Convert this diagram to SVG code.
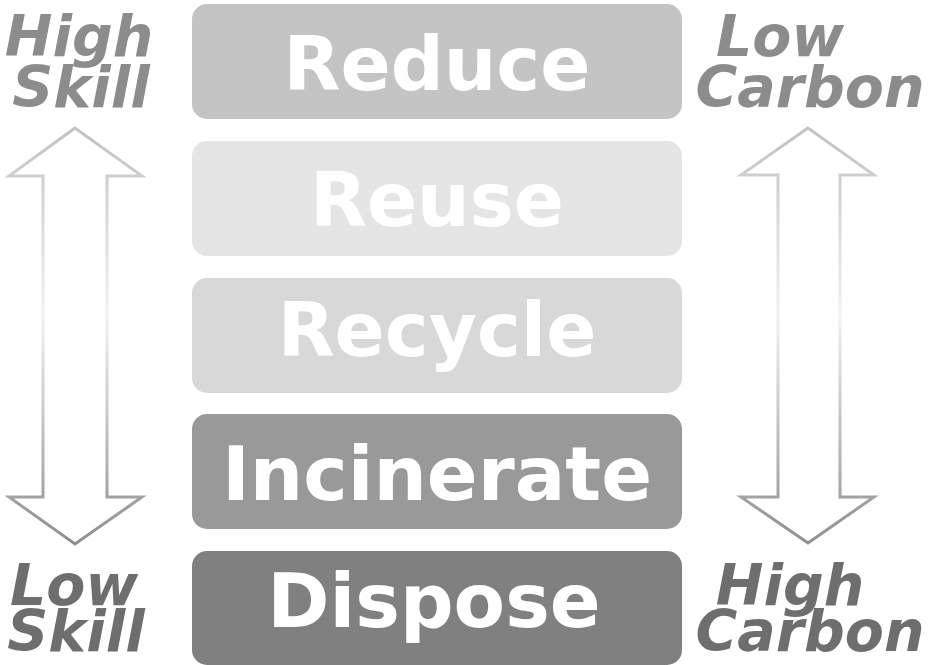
<svg xmlns="http://www.w3.org/2000/svg" width="929" height="665" viewBox="0 0 929 665">
<style>
.box text{font-family:"DejaVu Sans",sans-serif;font-weight:bold;font-size:74px;fill:#ffffff;text-anchor:middle}
.lab{font-family:"DejaVu Sans",sans-serif;font-weight:bold;font-style:italic;font-size:57px;text-anchor:middle}
.light{fill:#8c8c8c}
.dark{fill:#6e6e6e}
.arrow{fill:none;stroke:url(#ag);stroke-width:3;stroke-linejoin:miter}
</style>
<defs>
<linearGradient id="ag" gradientUnits="userSpaceOnUse" x1="0" y1="128" x2="0" y2="544">
<stop offset="0" stop-color="#c2c2c2"/>
<stop offset="0.45" stop-color="#f2f2f2"/>
<stop offset="1" stop-color="#8e8e8e"/>
</linearGradient>
</defs>
<rect width="929" height="665" fill="#ffffff"/>
<g id="reduce" class="box"><rect x="192" y="4" width="490" height="115" rx="15" fill="#c4c4c4"/><text x="437" y="90">Reduce</text></g>
<g id="reuse" class="box"><rect x="192" y="141" width="490" height="115" rx="15" fill="#e5e5e5"/><text x="437" y="226">Reuse</text></g>
<g id="recycle" class="box"><rect x="192" y="278" width="490" height="115" rx="15" fill="#d8d8d8"/><text x="437" y="356">Recycle</text></g>
<g id="incinerate" class="box"><rect x="192" y="414" width="490" height="115" rx="15" fill="#999999"/><text x="437" y="500" style="font-size:75px">Incinerate</text></g>
<g id="dispose" class="box"><rect x="192" y="551" width="490" height="114" rx="15" fill="#808080"/><text x="434" y="627" style="font-size:75px">Dispose</text></g>
<g id="labels">
<text class="lab light" x="79" y="56">High</text>
<text class="lab light" x="81" y="107">Skill</text>
<text class="lab dark" x="74" y="605">Low</text>
<text class="lab dark" x="76" y="651">Skill</text>
<text class="lab light" x="780" y="56">Low</text>
<text class="lab light" x="810" y="107">Carbon</text>
<text class="lab dark" x="790" y="605">High</text>
<text class="lab dark" x="810" y="651">Carbon</text>
</g>
<g id="connectors">
<path class="arrow" d="M75,128 L9,176 L43,176 L43,497 L9,497 L75,544 L142,497 L107,497 L107,176 L142,176 Z"/>
<path class="arrow" d="M808,128 L741,175 L778,175 L778,497 L741,497 L808,543 L874,497 L840,497 L840,175 L874,175 Z"/>
</g>
</svg>
